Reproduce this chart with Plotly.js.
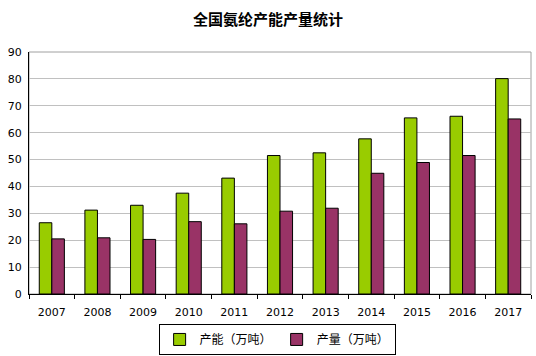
<!DOCTYPE html>
<html>
<head>
<meta charset="utf-8">
<script src="https://cdn.plot.ly/plotly-3.0.1.min.js"></script>
<style>html,body{margin:0;padding:0;background:#fff;}#chart{width:536px;height:356px;}</style>
</head>
<body>
<div id="chart"></div>
<script>
var years = ['2007','2008','2009','2010','2011','2012','2013','2014','2015','2016','2017'];
var capacity = [26.5, 31.2, 33.0, 37.5, 43.1, 51.5, 52.5, 57.7, 65.5, 66.1, 80.1];
var output = [20.5, 20.9, 20.3, 26.9, 26.1, 30.8, 31.9, 44.9, 48.9, 51.5, 65.1];
var yTicks = [0,10,20,30,40,50,60,70,80,90];

var traces = [
  {type:'bar', name:'产能（万吨）', x:years, y:capacity,
   marker:{color:'#99CC00', line:{color:'#000', width:1}}},
  {type:'bar', name:'产量（万吨）', x:years, y:output,
   marker:{color:'#993366', line:{color:'#000', width:1}}}
];

var layout = {
  width:536, height:356,
  margin:{l:29, r:5, t:52, b:62},
  paper_bgcolor:'#fff', plot_bgcolor:'#fff',
  font:{family:'"DejaVu Sans", "Noto Sans CJK SC", sans-serif', size:11, color:'#000'},
  title:{text:'<b>全国氨纶产能产量统计</b>', font:{family:'"Noto Sans CJK SC", sans-serif', size:15, color:'#000'},
         x:0.5, xanchor:'center', y:0.945, yanchor:'middle'},
  barmode:'group', bargap:0.45, bargroupgap:0,
  xaxis:{type:'category', showline:true, linecolor:'#000', linewidth:1,
         ticks:'outside', tickson:'boundaries', ticklen:4, tickcolor:'#000',
         showgrid:false, tickfont:{size:11}, ticklabelstandoff:8, automargin:false},
  yaxis:{range:[0,90], tickvals:yTicks, ticktext:yTicks.map(String),
         showline:true, linecolor:'#000', linewidth:1, ticks:'',
         showgrid:true, gridcolor:'#c0c0c0', gridwidth:1, zeroline:false,
         tickfont:{size:11}, ticklabelstandoff:4, automargin:false},
  shapes:[{type:'rect', xref:'paper', yref:'paper', x0:0, x1:1, y0:0, y1:1,
           line:{color:'#a0a0a0', width:1}, layer:'below'}],
  legend:{orientation:'h', x:0.517, xanchor:'center', xref:'container',
          y:0.09, yanchor:'top', yref:'container',
          bordercolor:'#000', borderwidth:1, font:{family:'"Noto Sans CJK SC", sans-serif', size:12},
          itemwidth:30, tracegroupgap:0}
};

Plotly.newPlot('chart', traces, layout, {displayModeBar:false, staticPlot:true});
</script>
</body>
</html>
